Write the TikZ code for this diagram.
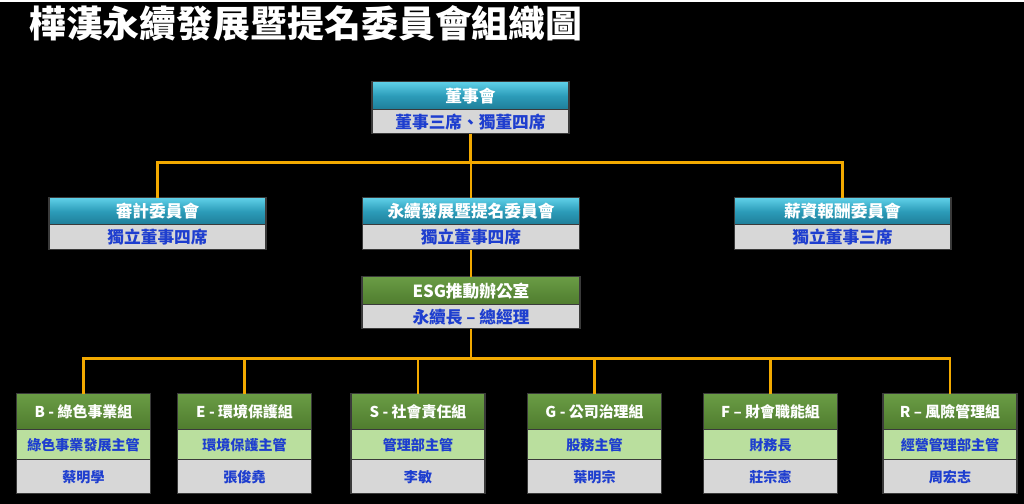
\documentclass[tikz,border=0pt]{standalone}
\usepackage{fontspec}
\setmainfont{Noto Sans CJK TC}
\usetikzlibrary{positioning}
\definecolor{bluetop}{HTML}{5FD0E8}
\definecolor{bluemid}{HTML}{2C9CB9}
\definecolor{bluebot}{HTML}{1E7D98}
\definecolor{greentop}{HTML}{6A9C45}
\definecolor{greenbot}{HTML}{4F7C2E}
\definecolor{lightgreen}{HTML}{BADF9E}
\definecolor{greyfill}{HTML}{D7D7D7}
\definecolor{boxline}{HTML}{3A3A3A}
\definecolor{txtblue}{HTML}{1E3ECF}
\definecolor{linkorange}{HTML}{F2A900}
\tikzset{
    box/.style={draw=boxline,line width=0.6pt,inner sep=0pt,outer sep=0pt,align=center},
    bluehd/.style={box,top color=bluetop,bottom color=bluebot,middle color=bluemid,text=white,font=\bfseries\fontsize{9.5}{10}\selectfont},
    greenhd/.style={box,top color=greentop,bottom color=greenbot,text=white,font=\bfseries\fontsize{8.5}{10}\selectfont},
    greyrow/.style={box,fill=greyfill,text=txtblue,font=\bfseries\fontsize{9.5}{10}\selectfont},
    lightrow/.style={box,fill=lightgreen,text=txtblue,font=\bfseries\fontsize{8}{10}\selectfont},
    link/.style={draw=linkorange,line width=1.6pt}
}
\begin{document}
\begin{tikzpicture}[x=0.02cm,y=-0.02cm]
    \fill [black] (0,0) rectangle (1024,502);
    \node [anchor=west,text=white,font=\bfseries\fontsize{21}{24}\selectfont] (title) at (23,22) {樺漢永續發展暨提名委員會組織圖};
    % board and committees
    \node [bluehd,anchor=north,minimum width=3.94cm,minimum height=0.56cm] (board) at (470.5,80) {董事會};
    \node [greyrow,below=0pt of board,minimum width=3.94cm,minimum height=0.48cm] (boardsub) {董事三席、獨董四席};
    \node [bluehd,anchor=north,minimum width=4.34cm,minimum height=0.54cm] (audit) at (157.5,196) {審計委員會};
    \node [greyrow,below=0pt of audit,minimum width=4.34cm,minimum height=0.50cm] (auditsub) {獨立董事四席};
    \node [bluehd,anchor=north,minimum width=4.34cm,minimum height=0.54cm] (nomin) at (471,196) {永續發展暨提名委員會};
    \node [greyrow,below=0pt of nomin,minimum width=4.34cm,minimum height=0.50cm] (nominsub) {獨立董事四席};
    \node [bluehd,anchor=north,minimum width=4.34cm,minimum height=0.54cm] (pay) at (842.5,196) {薪資報酬委員會};
    \node [greyrow,below=0pt of pay,minimum width=4.34cm,minimum height=0.50cm] (paysub) {獨立董事三席};
    \node [greenhd,anchor=north,minimum width=4.36cm,minimum height=0.56cm,font=\bfseries\fontsize{9.5}{10}\selectfont] (esg) at (471,275) {ESG推動辦公室};
    \node [greyrow,below=0pt of esg,minimum width=4.36cm,minimum height=0.48cm] (esgsub) {永續長 – 總經理};
    % working groups
    \foreach \n/\x/\t/\r/\p in {b/83.5/{B - 綠色事業組}/綠色事業發展主管/蔡明學,
                                 e/244.5/{E - 環境保護組}/環境保護主管/張俊堯,
                                 s/418/{S - 社會責任組}/管理部主管/李敏,
                                 g/594.5/{G - 公司治理組}/股務主管/葉明宗,
                                 f/770.5/{F – 財會職能組}/財務長/莊宗憲,
                                 r/950/{R – 風險管理組}/經營管理部主管/周宏志} {
        \node [greenhd,anchor=north,minimum width=2.68cm,minimum height=0.72cm] (\n h) at (\x,392) {\t};
        \node [lightrow,below=0pt of \n h,minimum width=2.68cm,minimum height=0.60cm] (\n m) {\r};
        \node [greyrow,below=0pt of \n m,minimum width=2.68cm,minimum height=0.68cm,font=\bfseries\fontsize{8}{10}\selectfont] (\n n) {\p};
    }
    % connectors
    \coordinate (bus1) at (0,161);
    \coordinate (bus2) at (0,357);
    \draw [link] (boardsub.south) -- (boardsub.south |- bus1);
    \draw [link] (audit.north) -- (audit.north |- bus1) -- (pay.north |- bus1) -- (pay.north);
    \draw [link] (nomin.north) -- (nomin.north |- bus1);
    \draw [link] (nominsub.south) -- (esg.north);
    \draw [link] (esgsub.south) -- (esgsub.south |- bus2);
    \draw [link] (bh.north) -- (bh.north |- bus2) -- (rh.north |- bus2) -- (rh.north);
    \foreach \n in {e,s,g,f}
        \draw [link] (\n h.north) -- (\n h.north |- bus2);
\end{tikzpicture}
\end{document}
